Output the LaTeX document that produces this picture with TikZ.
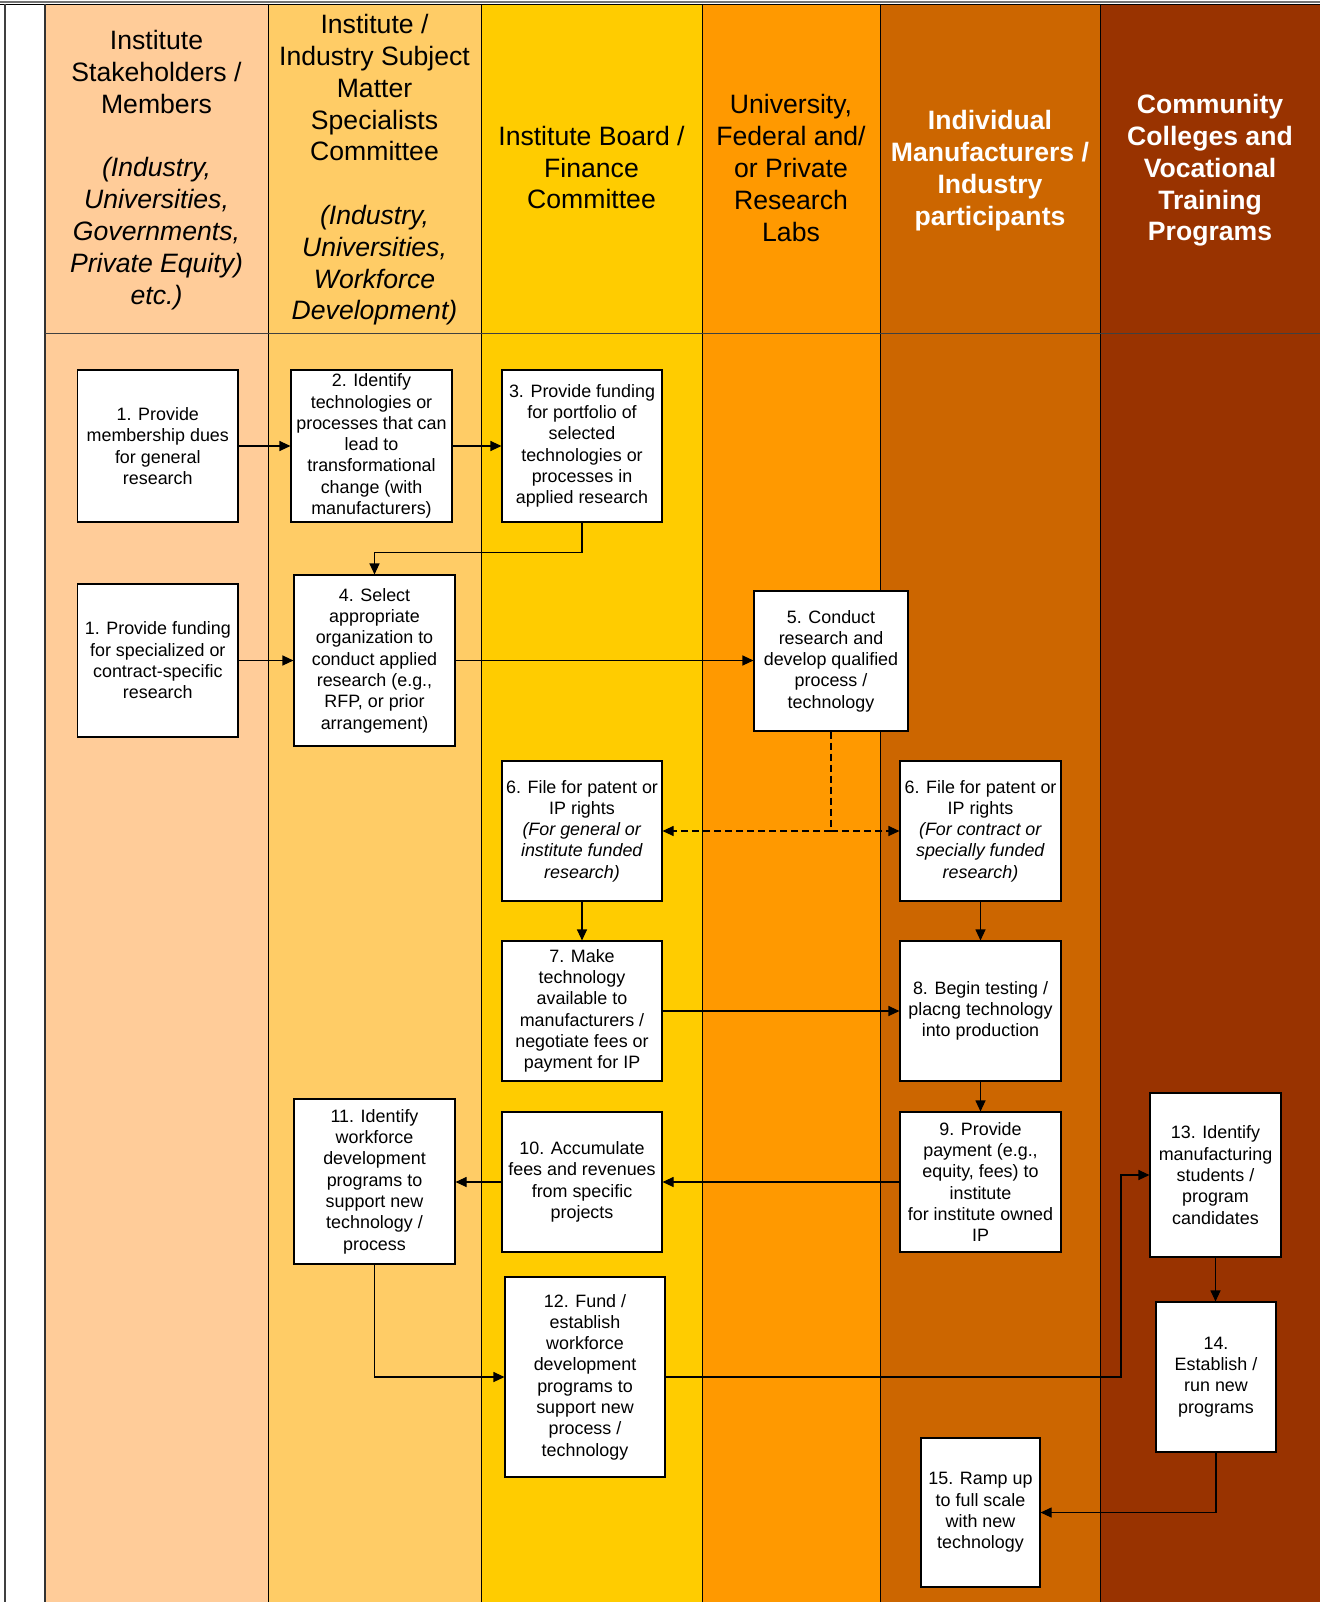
\documentclass[tikz,border=0pt]{standalone}
\usepackage{fontspec}
\setmainfont{Liberation Sans}
\usetikzlibrary{arrows.meta,shadows,calc}
\definecolor{laneA}{HTML}{FFCC99}
\definecolor{laneB}{HTML}{FFCC66}
\definecolor{laneC}{HTML}{FFCC00}
\definecolor{laneD}{HTML}{FF9900}
\definecolor{laneE}{HTML}{CC6600}
\definecolor{laneF}{HTML}{993300}
\begin{document}
\begin{tikzpicture}[x=1pt,y=-1pt,
  box/.style={draw=black, line width=1.1pt, fill=white, align=center, inner sep=0pt,
    font=\fontsize{17.9}{21.3}\selectfont,
    drop shadow={shadow xshift=1.4pt, shadow yshift=-1.4pt, fill=black!45, opacity=1}},
  hdr/.style={align=center, inner sep=0pt, font=\fontsize{26.6}{31.8}\selectfont},
  hdrw/.style={hdr, text=white, font=\fontsize{26.6}{31.8}\selectfont\bfseries},
  conn/.style={line width=1.1pt, -{Triangle[length=11pt,width=10pt]}},
  plain/.style={line width=1.1pt},
  lanesep/.style={line width=0.9pt, black}
]
\useasboundingbox (0,0) rectangle (1320,1602);
\fill[white] (0,0) rectangle (1320,1602);
% lanes
\fill[laneA] (45,4) rectangle (268,1602);
\fill[laneB] (268,4) rectangle (481,1602);
\fill[laneC] (481,4) rectangle (702,1602);
\fill[laneD] (702,4) rectangle (880,1602);
\fill[laneE] (880,4) rectangle (1100,1602);
\fill[laneF] (1100,4) rectangle (1320,1602);
% borders
\draw[black!55, line width=1.6pt] (0,2.3) -- (1320,2.3);
\draw[black, line width=0.9pt] (0,4.3) -- (1320,4.3);
\draw[black!75, line width=2pt] (5,4) -- (5,1602);
\draw[black!80, line width=1.5pt] (45,4) -- (45,1602);
\foreach \xx in {268,481,702,880,1100} \draw[lanesep] (\xx,4) -- (\xx,1602);
\draw[black!75, line width=1.4pt] (45,333.3) -- (1320,333.3);
% headers
\node[hdr] (h1) at (156.5,170) {Institute\\Stakeholders /\\Members\\[31.8pt]\textit{(Industry,}\\\textit{Universities,}\\\textit{Governments,}\\\textit{Private Equity)}\\\textit{etc.)}};
\node[hdr] (h2) at (374.5,170) {Institute /\\Industry Subject\\Matter\\Specialists\\Committee\\[31.8pt]\textit{(Industry,}\\\textit{Universities,}\\\textit{Workforce}\\\textit{Development)}};
\node[hdr] (h3) at (591.5,167.5) {Institute Board /\\Finance\\Committee};
\node[hdr] (h4) at (791,168) {University,\\Federal and/\\or Private\\Research\\Labs};
\node[hdrw] (h5) at (990,170.5) {Individual\\Manufacturers /\\Industry\\participants};
\node[hdrw] (h6) at (1210,170.5) {Community\\Colleges and\\Vocational\\Training\\Programs};
% boxes
\node[box, minimum width=160.4pt, minimum height=152pt] (b1a) at (157.8,446) {1. Provide\\membership dues\\for general\\research};
\node[box, minimum width=161pt, minimum height=152pt] (b2) at (371.5,446) {2. Identify\\technologies or\\processes that can\\lead to\\transformational\\change (with\\manufacturers)};
\node[box, minimum width=160pt, minimum height=152pt] (b3) at (582,446) {3. Provide funding\\for portfolio of\\selected\\technologies or\\processes in\\applied research};
\node[box, minimum width=160.4pt, minimum height=153pt] (b1b) at (157.8,660.5) {1. Provide funding\\for specialized or\\contract-specific\\research};
\node[box, minimum width=161pt, minimum height=171pt] (b4) at (374.5,660.5) {4. Select\\appropriate\\organization to\\conduct applied\\research (e.g.,\\RFP, or prior\\arrangement)};
\node[box, minimum width=154pt, minimum height=140pt] (b5) at (831,661) {5. Conduct\\research and\\develop qualified\\process /\\technology};
\node[box, minimum width=160pt, minimum height=140pt] (b6a) at (582,831) {6. File for patent or\\IP rights\\\textit{(For general or}\\\textit{institute funded}\\\textit{research)}};
\node[box, minimum width=161pt, minimum height=140pt] (b6b) at (980.5,831) {6. File for patent or\\IP rights\\\textit{(For contract or}\\\textit{specially funded}\\\textit{research)}};
\node[box, minimum width=160pt, minimum height=140pt] (b7) at (582,1011) {7. Make\\technology\\available to\\manufacturers /\\negotiate fees or\\payment for IP};
\node[box, minimum width=161pt, minimum height=140pt] (b8) at (980.5,1011) {8. Begin testing /\\placng technology\\into production};
\node[box, minimum width=161pt, minimum height=140pt] (b9) at (980.5,1182) {9. Provide\\payment (e.g.,\\equity, fees) to\\institute\\for institute owned\\IP};
\node[box, minimum width=160pt, minimum height=140pt] (b10) at (582,1182) {10. Accumulate\\fees and revenues\\from specific\\projects};
\node[box, minimum width=161pt, minimum height=165pt] (b11) at (374.5,1181.5) {11. Identify\\workforce\\development\\programs to\\support new\\technology /\\process};
\node[box, minimum width=160pt, minimum height=200pt] (b12) at (585,1377) {12. Fund /\\establish\\workforce\\development\\programs to\\support new\\process /\\technology};
\node[box, minimum width=131pt, minimum height=164pt] (b13) at (1215.5,1175) {13. Identify\\manufacturing\\students /\\program\\candidates};
\node[box, minimum width=120pt, minimum height=150pt] (b14) at (1216,1377) {14.\\Establish /\\run new\\programs};
\node[box, minimum width=119pt, minimum height=149pt] (b15) at (980.5,1512.5) {15. Ramp up\\to full scale\\with new\\technology};
% connectors
\draw[conn] (b1a.east) -- (b2.west);
\draw[conn] (b2.east) -- (b3.west);
\draw[conn] (b3.south) -- ++(0,30) -| (b4.north);
\draw[conn] (b1b.east) -- (b4.west);
\draw[conn] (b4.east) -- (b4.east -| b5.west);
\coordinate (j5) at (b5.south |- b6a.east);
\draw[plain, dash pattern=on 7pt off 4pt] (b5.south) -- (j5);
\draw[conn, dash pattern=on 7pt off 4pt] (j5) -- (b6a.east);
\draw[conn, dash pattern=on 7pt off 4pt] (j5) -- (b6b.west);
\draw[conn] (b6a.south) -- (b7.north);
\draw[conn] (b6b.south) -- (b8.north);
\draw[conn] (b7.east) -- (b8.west);
\draw[conn] (b8.south) -- (b9.north);
\draw[conn] (b9.west) -- (b10.east);
\draw[conn] (b10.west) -- (b10.west -| b11.east);
\draw[conn] (b11.south) |- (b12.west);
\coordinate (k12) at (1121,1377);
\draw[conn] (b12.east) -- (k12) |- (b13.west);
\draw[conn] (b13.south) -- (b13.south |- b14.north);
\draw[conn] (b14.south) |- (b15.east);
\end{tikzpicture}
\end{document}
